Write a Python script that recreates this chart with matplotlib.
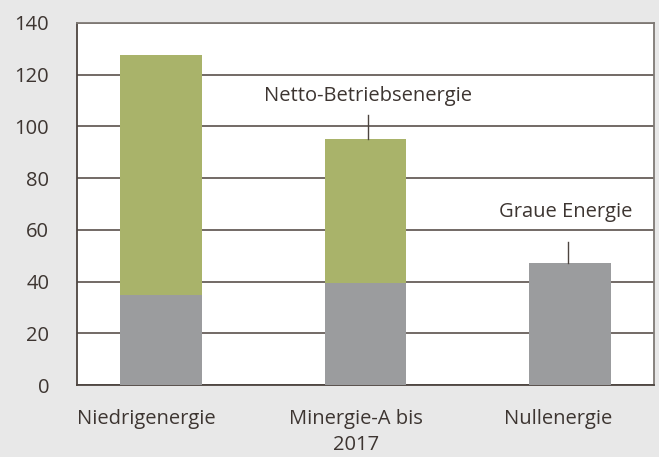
import matplotlib.pyplot as plt

categories = ['Niedrigenergie', 'Minergie-A bis\n2017', 'Nullenergie']
graue_energie = [35, 39.5, 47]
betriebsenergie = [92.5, 55.5, 0]

plt.rcParams['font.family'] = ['Open Sans', 'DejaVu Sans']
text_color = '#3d3531'
green = '#a9b36a'
gray = '#9b9c9e'

fig = plt.figure(figsize=(6.59, 4.57), dpi=100, facecolor='#e8e8e8')
ax = fig.add_axes([0.1168, 0.1575, 0.8756, 0.7922])
ax.set_facecolor('white')

x = range(len(categories))
ax.bar(x, graue_energie, width=0.40, color=gray, zorder=3)
ax.bar(x, betriebsenergie, width=0.40, bottom=graue_energie, color=green, zorder=3)

ax.set_xlim(-0.41, 2.41)
ax.set_ylim(0, 140)
ax.set_yticks(range(0, 141, 20))
ax.yaxis.grid(True, color='#5a504b', linewidth=1.2, zorder=1)
ax.tick_params(axis='y', length=0, pad=20, labelsize=14.5, labelcolor=text_color)
# labels sit a bit left of the bar centres in the original
ax.set_xticks([-0.07, 0.955, 1.94])
ax.set_xticklabels(categories, multialignment='center', linespacing=1.4)
ax.tick_params(axis='x', length=0, pad=17, labelsize=14.5, labelcolor=text_color)

for side in ['left', 'bottom']:
    ax.spines[side].set_color('#4d4540')
    ax.spines[side].set_linewidth(1.3)
for side in ['top', 'right']:
    ax.spines[side].set_color('#7f7a75')
    ax.spines[side].set_linewidth(1.3)

total_mid = graue_energie[1] + betriebsenergie[1]
ax.plot([1.01, 1.01], [total_mid, 104.5], color='#4d4540', linewidth=1, zorder=4)
ax.text(1.01, 111.8, 'Netto-Betriebsenergie', ha='center', va='center',
        fontsize=14.5, color=text_color)

ax.plot([1.99, 1.99], [graue_energie[2], 55.5], color='#4d4540', linewidth=1, zorder=4)
ax.text(1.98, 66.9, 'Graue Energie', ha='center', va='center',
        fontsize=14.5, color=text_color)

fig.savefig('out.png', dpi=100, facecolor=fig.get_facecolor())
